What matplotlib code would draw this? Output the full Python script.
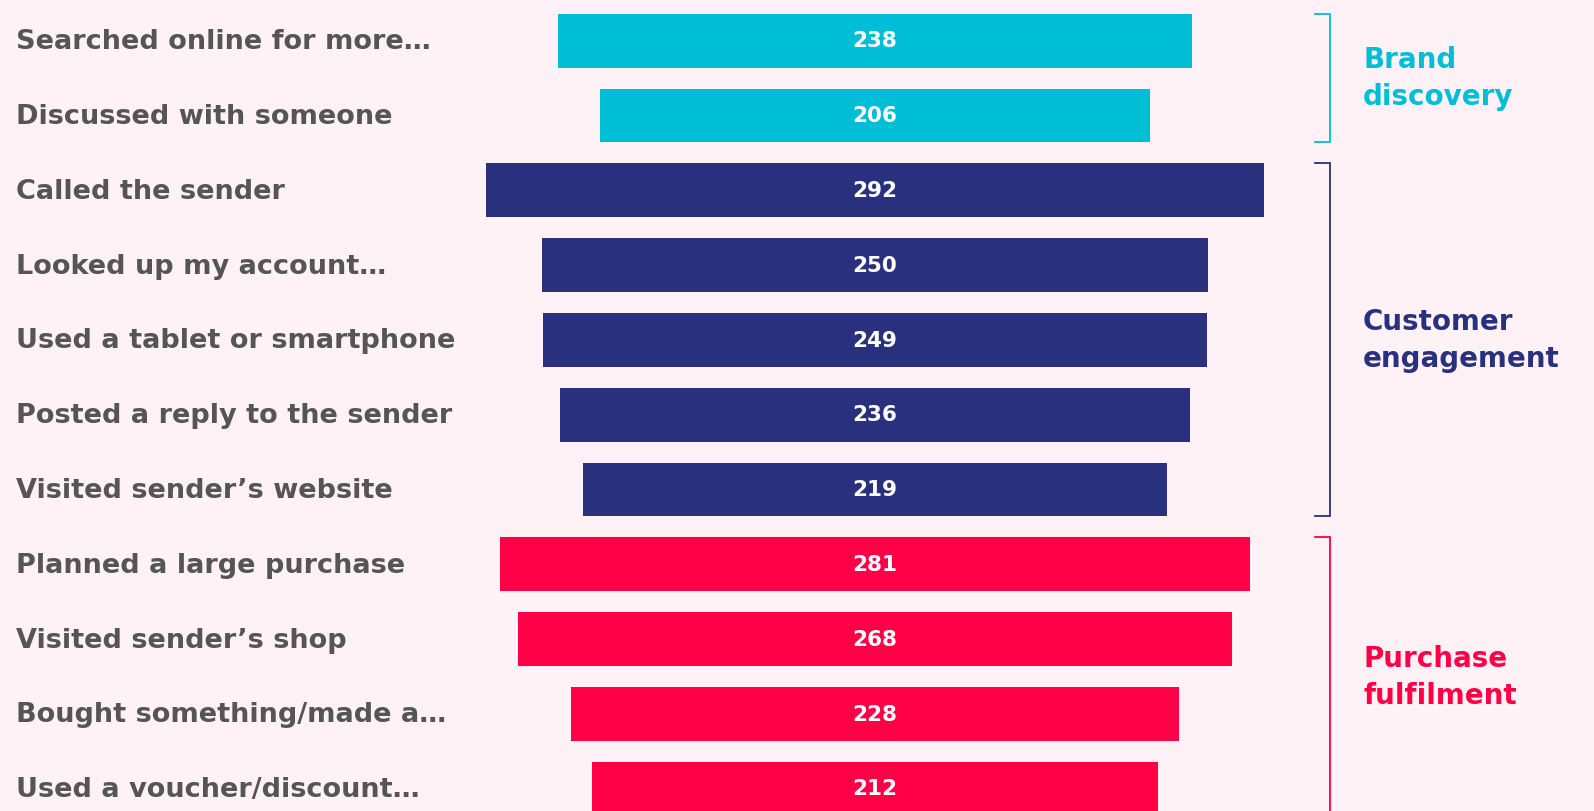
import matplotlib.pyplot as plt

# data
labels = ["Searched online for more…", "Discussed with someone", "Called the sender",
          "Looked up my account…", "Used a tablet or smartphone", "Posted a reply to the sender",
          "Visited sender’s website", "Planned a large purchase", "Visited sender’s shop",
          "Bought something/made a…", "Used a voucher/discount…"]
values = [238, 206, 292, 250, 249, 236, 219, 281, 268, 228, 212]
groups = ["Brand\ndiscovery"] * 2 + ["Customer\nengagement"] * 5 + ["Purchase\nfulfilment"] * 4
group_names = ["Brand\ndiscovery", "Customer\nengagement", "Purchase\nfulfilment"]
group_colors = {"Brand\ndiscovery": "#00BED6",
                "Customer\nengagement": "#29307D",
                "Purchase\nfulfilment": "#FF0046"}

bg = "#FFF2F6"
plt.rcParams['font.family'] = ['DejaVu Sans']

fig = plt.figure(figsize=(15.94, 8.11), dpi=100, facecolor=bg)
ax = fig.add_axes([0, 0, 1, 1])
ax.set_facecolor(bg)

# pixel-based scale: center of funnel at x=875 px, 2.667 px per unit
ppu = 2.667
ax.set_xlim(-875 / ppu, (1594 - 875) / ppu)
row_h = 74.8
ax.set_ylim((811 - 40.7) / row_h, -40.7 / row_h)
ax.axis("off")

ys = list(range(len(values)))
colors = [group_colors[g] for g in groups]
ax.barh(ys, values, left=[-v / 2 for v in values], height=0.72, color=colors)

for y, v, lab in zip(ys, values, labels):
    ax.text(0, y + 0.01, str(v), ha="center", va="center", color="white",
            fontsize=15.5, fontweight="bold")
    ax.text(16 / 1594, y + 0.02, lab, transform=ax.get_yaxis_transform(), ha="left",
            va="center", color="#555555", fontsize=19.5, fontweight="bold")

# brackets + group labels
xb = (1330 - 875) / ppu
xt = (1315 - 875) / ppu
for g in group_names:
    idx = [i for i, gg in enumerate(groups) if gg == g]
    top = idx[0] - 0.36
    bot = idx[-1] + 0.36
    c = group_colors[g]
    ax.plot([xt, xb, xb, xt], [top, top, bot, bot], color=c, lw=1.3,
            solid_joinstyle="miter", clip_on=True)
    ax.text((1363 - 875) / ppu, sum(idx) / len(idx) + 0.01, g, ha="left", va="center",
            color=c, fontsize=20, fontweight="bold", linespacing=1.42)

fig.savefig("out.png", dpi=100, facecolor=bg)
